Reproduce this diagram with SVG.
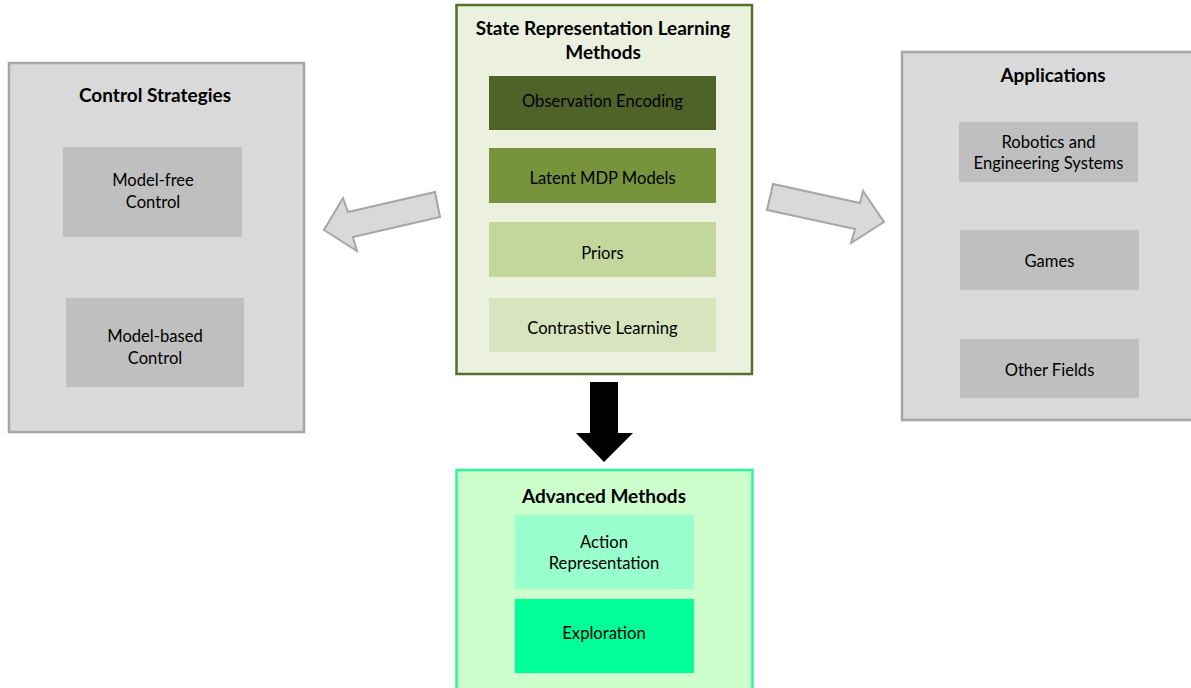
<svg xmlns="http://www.w3.org/2000/svg" width="1191" height="688" viewBox="0 0 1191 688">
<style>
text{font-family:Lato,"Liberation Sans",sans-serif;fill:#000;text-anchor:middle}
.t{font-weight:bold;font-size:19px}
.l{font-size:16.6px}
.grey{fill:#d9d9d9;stroke:#a6a6a6;stroke-width:2.5}
.gin{fill:#bfbfbf}
.arr{fill:#d9d9d9;stroke:#a6a6a6;stroke-width:2;stroke-linejoin:miter}
</style>
<rect width="1191" height="688" fill="#fff"/>
<g id="connectors">
<polygon class="arr" points="435,192 440,217 353,237 357,251 324,230 343,198 348,212"/>
<polygon class="arr" points="773,184 767,210 855,229 851,243 884,222 863,191 860,203"/>
<polygon fill="#000" points="590,382 618,382 618,433 633,433 604,462 576,433 590,433"/>
</g>
<g id="control">
<rect class="grey" x="9" y="63" width="295" height="369"/>
<text class="t" x="155" y="102">Control Strategies</text>
<g id="model-free"><rect class="gin" x="63" y="147" width="179" height="90"/>
<text class="l" x="153" y="186">Model-free</text><text class="l" x="153" y="208">Control</text></g>
<g id="model-based"><rect class="gin" x="66" y="298" width="178" height="89"/>
<text class="l" x="155" y="342">Model-based</text><text class="l" x="155" y="364">Control</text></g>
</g>
<g id="srl">
<rect x="456.5" y="5" width="295.5" height="369" fill="#ebf1de" stroke="#566f2e" stroke-width="2.5"/>
<text class="t" x="603" y="35">State Representation Learning</text>
<text class="t" x="603" y="59">Methods</text>
<g id="obs"><rect x="489" y="76" width="227" height="54" fill="#4f6228"/><text class="l" x="602.5" y="107">Observation Encoding</text></g>
<g id="latent"><rect x="489" y="148" width="227" height="55" fill="#77933c"/><text class="l" x="602.5" y="184">Latent MDP Models</text></g>
<g id="priors"><rect x="489" y="222" width="227" height="55" fill="#c3d69b"/><text class="l" x="602.5" y="259">Priors</text></g>
<g id="contrastive"><rect x="489" y="298" width="227" height="54" fill="#d7e4bd"/><text class="l" x="602.5" y="334">Contrastive Learning</text></g>
</g>
<g id="applications">
<rect class="grey" x="902" y="52" width="300" height="368"/>
<text class="t" x="1053" y="82">Applications</text>
<g id="robotics"><rect class="gin" x="959" y="122" width="179" height="60"/>
<text class="l" x="1048.5" y="148">Robotics and</text><text class="l" x="1048.5" y="169">Engineering Systems</text></g>
<g id="games"><rect class="gin" x="960" y="230" width="179" height="60"/><text class="l" x="1049.5" y="267">Games</text></g>
<g id="other"><rect class="gin" x="960" y="339" width="179" height="59"/><text class="l" x="1049.5" y="376">Other Fields</text></g>
</g>
<g id="advanced">
<rect x="456.5" y="470" width="296" height="230" fill="#ccffcc" stroke="#2ef59c" stroke-width="2.5"/>
<text class="t" x="604" y="503">Advanced Methods</text>
<g id="action"><rect x="515" y="515" width="179" height="74" fill="#99ffcc"/>
<text class="l" x="604" y="548">Action</text><text class="l" x="604" y="569">Representation</text></g>
<g id="exploration"><rect x="515" y="599" width="179" height="74" fill="#00ff99"/><text class="l" x="604" y="639">Exploration</text></g>
</g>
</svg>
